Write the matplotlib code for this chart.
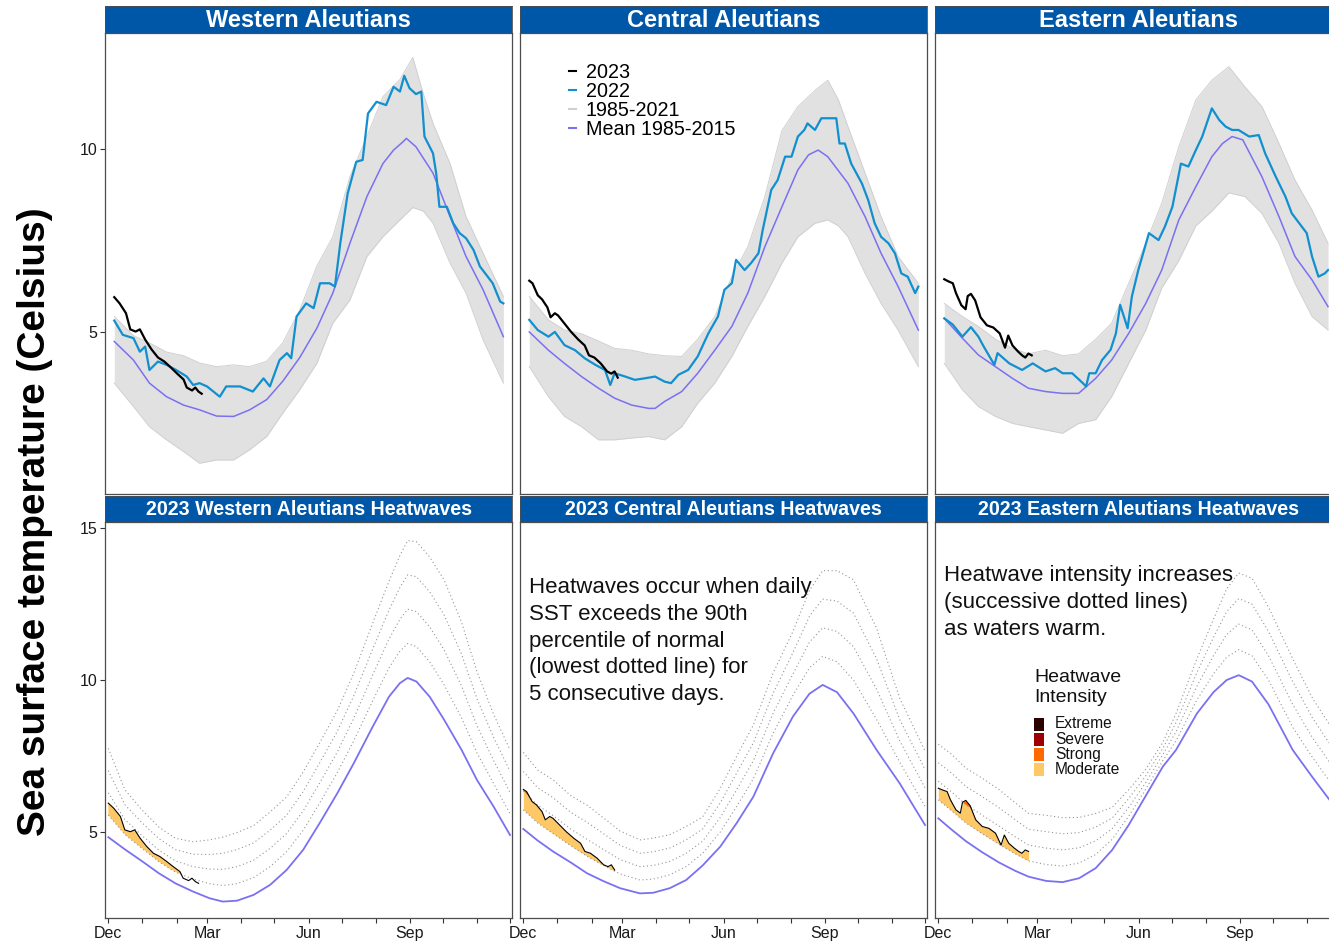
import numpy as np
import matplotlib
matplotlib.use("Agg")
import matplotlib.pyplot as plt
from matplotlib.lines import Line2D
from matplotlib.patches import Rectangle

plt.rcParams['font.family'] = ['Liberation Sans', 'DejaVu Sans']

# ---------------------------------------------------------------- data
# x values are days since 1 December
regions = ["Western Aleutians", "Central Aleutians", "Eastern Aleutians"]
month_ticks = [0, 31, 62, 90, 121, 151, 182, 212, 243, 274, 304, 335, 365]
month_labels = ["Dec", "", "", "Mar", "", "", "Jun", "", "", "Sep", "", "", ""]
intensity_names = ["Extreme", "Severe", "Strong", "Moderate"]

# --- Western Aleutians
west_2022_day = [0, 8, 18, 24, 29, 33, 41, 49, 58, 68, 74, 80, 87, 99, 105, 118, 130, 140, 146, 155,
                 162, 166, 171, 180, 187, 193, 202, 207, 212, 219, 227, 233, 238, 246, 255, 262, 268, 272, 277, 283,
                 288, 291, 299, 302, 305, 312, 318, 324, 330, 337, 343, 349, 355, 362, 365]
west_2022 = [5.31, 4.92, 4.83, 4.46, 4.6, 3.96, 4.19, 4.1, 3.96, 3.78, 3.55, 3.6, 3.51, 3.23, 3.51, 3.51, 3.37, 3.73, 3.51, 4.23,
             4.42, 4.28, 5.42, 5.78, 5.65, 6.33, 6.33, 6.24, 7.42, 8.79, 9.65, 9.7, 10.97, 11.29, 11.2, 11.7, 11.57, 12.0, 11.66, 11.5,
             11.57, 10.34, 9.88, 9.33, 8.42, 8.42, 7.97, 7.7, 7.56, 7.24, 6.79, 6.56, 6.33, 5.83, 5.78]
west_mean_day = [0, 18, 33, 49, 65, 80, 96, 112, 127, 143, 158, 174, 190, 205, 221, 237, 252, 262, 271, 274, 283, 299, 315, 330, 346, 365]
west_mean = [4.74, 4.23, 3.6, 3.23, 3.0, 2.87, 2.7, 2.69, 2.87, 3.15, 3.65, 4.3, 5.1, 6.06, 7.42, 8.7, 9.6, 9.97, 10.2, 10.29, 10.06, 9.34, 8.15, 7.06, 6.15, 4.87]
west_env_day = [0, 18, 33, 49, 65, 80, 96, 112, 127, 143, 158, 174, 190, 205, 221, 237, 252, 268, 280, 290, 299, 315, 330, 346, 365]
west_env_hi = [5.42, 4.9, 4.7, 4.45, 4.35, 4.15, 4.05, 4.1, 4.05, 4.2, 4.7, 5.6, 6.8, 7.6, 9.24, 10.34, 11.43, 11.9, 12.5, 11.5, 10.7, 9.6, 8.15, 7.15, 5.97]
west_env_lo = [3.6, 2.96, 2.41, 2.05, 1.73, 1.41, 1.5, 1.5, 1.78, 2.14, 2.78, 3.42, 4.14, 5.24, 5.87, 7.06, 7.6, 8.06, 8.4, 8.3, 7.97, 6.88, 6.06, 4.78, 3.6]
west_2023_day = [0, 5, 11, 15, 20, 24, 29, 35, 41, 47, 53, 59, 65, 68, 73, 76, 79, 82]
west_2023 = [5.95, 5.78, 5.51, 5.07, 5.01, 5.07, 4.79, 4.52, 4.30, 4.19, 4.03, 3.86, 3.70, 3.48, 3.40, 3.48, 3.37, 3.31]
west_clim_day = [0, 15, 31, 46, 61, 77, 92, 104, 117, 132, 147, 162, 177, 192, 208, 223, 240, 255, 265, 272, 280, 292, 305, 321, 335, 350, 365]
west_clim_mean = [4.83, 4.43, 4.03, 3.64, 3.31, 3.04, 2.82, 2.71, 2.74, 2.93, 3.26, 3.75, 4.41, 5.29, 6.27, 7.26, 8.45, 9.45, 9.9, 10.07, 9.95, 9.45, 8.7, 7.7, 6.71, 5.84, 4.9]
west_clim_p90 = [5.56, 4.92, 4.45, 4.02, 3.68, 3.45, 3.3, 3.24, 3.3, 3.5, 3.86, 4.35, 5.05, 5.95, 6.95, 8.0, 9.3, 10.4, 10.95, 11.2, 11.1, 10.6, 9.85, 8.75, 7.6, 6.6, 5.6]

# --- Central Aleutians
cent_2022_day = [0, 8, 18, 24, 33, 43, 52, 62, 71, 76, 80, 90, 99, 108, 118, 127, 133, 140, 149, 158,
                 168, 177, 183, 190, 194, 202, 208, 215, 219, 227, 233, 240, 246, 252, 258, 261, 268, 274, 280, 288,
                 291, 296, 302, 312, 318, 324, 330, 337, 343, 349, 355, 362, 365]
cent_2022 = [5.33, 5.05, 4.87, 5.0, 4.64, 4.5, 4.28, 4.1, 3.96, 3.55, 3.87, 3.78, 3.69, 3.73, 3.78, 3.64, 3.6, 3.83, 3.96, 4.33,
             4.96, 5.42, 6.15, 6.33, 6.97, 6.69, 6.88, 7.15, 7.79, 8.88, 9.15, 9.79, 9.79, 10.34, 10.52, 10.7, 10.52, 10.84, 10.84, 10.84,
             10.15, 10.15, 9.6, 9.06, 8.6, 7.97, 7.6, 7.42, 7.15, 6.6, 6.51, 6.06, 6.24]
cent_mean_day = [0, 18, 33, 49, 65, 80, 96, 112, 118, 127, 143, 158, 174, 190, 205, 221, 237, 252, 262, 271, 280, 299, 315, 330, 346, 365]
cent_mean = [5.0, 4.5, 4.14, 3.78, 3.46, 3.19, 3.0, 2.91, 2.91, 3.1, 3.37, 3.87, 4.5, 5.15, 6.06, 7.33, 8.42, 9.43, 9.84, 9.97, 9.79, 9.06, 8.15, 7.15, 6.24, 5.05]
cent_env_day = [0, 18, 33, 49, 65, 80, 96, 112, 127, 143, 158, 174, 190, 205, 221, 237, 252, 268, 280, 290, 299, 315, 330, 346, 365]
cent_env_hi = [5.97, 5.33, 5.05, 4.95, 4.75, 4.55, 4.5, 4.4, 4.35, 4.33, 4.8, 5.42, 6.51, 7.33, 8.7, 10.5, 11.16, 11.6, 11.88, 11.34, 10.61, 9.34, 8.15, 7.06, 6.33]
cent_env_lo = [4.05, 3.23, 2.69, 2.41, 2.05, 2.05, 2.1, 2.14, 2.05, 2.41, 3.05, 3.6, 4.33, 5.15, 5.97, 6.88, 7.6, 7.97, 8.06, 7.9, 7.6, 6.6, 5.78, 5.05, 4.05]
cent_2023_day = [0, 3, 8, 12, 17, 20, 24, 27, 33, 39, 46, 52, 56, 61, 67, 73, 77, 80, 83]
cent_2023 = [6.40, 6.33, 6.0, 5.89, 5.67, 5.40, 5.51, 5.45, 5.23, 5.01, 4.79, 4.63, 4.36, 4.30, 4.14, 3.92, 3.86, 3.92, 3.75]
cent_clim_day = [0, 13, 27, 43, 58, 73, 88, 106, 118, 133, 148, 163, 179, 194, 209, 227, 245, 260, 272, 285, 300, 321, 342, 365]
cent_clim_mean = [5.10, 4.72, 4.36, 4.0, 3.64, 3.38, 3.15, 2.98, 3.0, 3.15, 3.42, 3.9, 4.52, 5.3, 6.16, 7.59, 8.8, 9.55, 9.84, 9.6, 8.9, 7.7, 6.6, 5.23]
cent_clim_p90 = [5.73, 5.3, 4.95, 4.55, 4.2, 3.9, 3.62, 3.42, 3.45, 3.59, 3.86, 4.3, 5.0, 5.85, 6.75, 8.25, 9.5, 10.4, 10.78, 10.6, 10.0, 8.7, 7.3, 5.84]

# --- Eastern Aleutians
east_2022_day = [0, 8, 17, 25, 32, 37, 47, 50, 61, 73, 83, 95, 104, 111, 120, 130, 133, 136, 142, 148,
                 156, 161, 165, 172, 176, 182, 192, 201, 207, 214, 222, 229, 236, 242, 251, 258, 264, 270, 276, 286,
                 295, 301, 311, 320, 326, 333, 340, 345, 351, 357, 360]
east_2022 = [5.37, 5.2, 4.87, 5.13, 4.87, 4.6, 4.1, 4.42, 4.14, 3.96, 4.14, 3.92, 4.01, 3.87, 3.87, 3.6, 3.51, 3.87, 3.87, 4.23,
             4.51, 4.96, 5.74, 5.10, 5.97, 6.69, 7.7, 7.51, 7.88, 8.42, 9.6, 9.52, 9.97, 10.34, 11.11, 10.79, 10.61, 10.52, 10.52, 10.34,
             10.38, 9.88, 9.24, 8.7, 8.24, 7.97, 7.7, 7.06, 6.51, 6.6, 6.69]
east_mean_day = [0, 17, 32, 48, 64, 79, 95, 111, 126, 142, 157, 173, 189, 204, 220, 236, 251, 261, 270, 280, 298, 314, 329, 345, 360]
east_mean = [5.37, 4.83, 4.37, 4.05, 3.73, 3.46, 3.37, 3.32, 3.32, 3.73, 4.23, 4.96, 5.78, 6.69, 8.06, 8.97, 9.79, 10.15, 10.34, 10.25, 9.24, 8.15, 7.06, 6.42, 5.69]
east_env_day = [0, 17, 32, 48, 64, 79, 95, 111, 126, 142, 157, 173, 189, 204, 220, 236, 251, 267, 282, 298, 314, 329, 345, 360]
east_env_hi = [5.78, 5.42, 5.15, 4.8, 4.55, 4.4, 4.5, 4.35, 4.4, 4.8, 5.24, 6.33, 7.42, 8.52, 10.06, 11.34, 11.88, 12.25, 11.7, 11.16, 10.15, 9.15, 8.33, 7.42]
east_env_lo = [4.14, 3.42, 2.96, 2.69, 2.5, 2.41, 2.32, 2.23, 2.5, 2.6, 3.23, 4.14, 5.05, 6.2, 6.95, 7.9, 8.3, 8.8, 8.7, 8.24, 7.42, 6.33, 5.42, 5.05]
east_2023_day = [0, 4, 8, 11, 16, 20, 22, 25, 29, 34, 40, 46, 52, 57, 60, 64, 69, 73, 76, 79, 82]
east_2023 = [6.44, 6.38, 6.33, 6.06, 5.73, 5.62, 5.98, 6.04, 5.86, 5.40, 5.18, 5.12, 4.96, 4.57, 4.90, 4.63, 4.47, 4.36, 4.30, 4.41, 4.36]
east_clim_day = [0, 12, 25, 40, 55, 70, 82, 98, 113, 128, 143, 158, 173, 188, 204, 216, 235, 250, 262, 273, 285, 300, 322, 340, 365]
east_clim_mean = [5.45, 5.08, 4.70, 4.33, 4.0, 3.72, 3.53, 3.39, 3.35, 3.48, 3.81, 4.41, 5.23, 6.16, 7.15, 7.7, 8.9, 9.6, 10.0, 10.16, 9.95, 9.2, 7.7, 6.8, 5.6]
east_clim_p90 = [6.06, 5.70, 5.30, 4.94, 4.60, 4.28, 4.05, 3.93, 3.88, 3.98, 4.26, 4.76, 5.52, 6.38, 7.35, 8.0, 9.35, 10.2, 10.75, 11.0, 10.8, 10.0, 8.45, 7.45, 6.2]

top_series = [
    (west_env_day, west_env_lo, west_env_hi, west_mean_day, west_mean, west_2022_day, west_2022),
    (cent_env_day, cent_env_lo, cent_env_hi, cent_mean_day, cent_mean, cent_2022_day, cent_2022),
    (east_env_day, east_env_lo, east_env_hi, east_mean_day, east_mean, east_2022_day, east_2022),
]
obs_2023 = [(west_2023_day, west_2023), (cent_2023_day, cent_2023), (east_2023_day, east_2023)]
climatology = [
    (west_clim_day, west_clim_mean, west_clim_p90),
    (cent_clim_day, cent_clim_mean, cent_clim_p90),
    (east_clim_day, east_clim_mean, east_clim_p90),
]

# ---------------------------------------------------------------- style
STRIP = "#0057a8"
C2023 = "black"
C2022 = "#118fcf"
CGREY = "#d0d0d0"
CMEAN = "#7a70f2"
FLAME = {"Moderate": "#ffc866", "Strong": "#ff6900", "Severe": "#9e0000", "Extreme": "#2d0000"}
FRAME = "#4d4d4d"

W, H = 1329, 944
fig = plt.figure(figsize=(W / 100, H / 100), dpi=100)


def rect(x0, y0, x1, y1):
    return [x0 / W, 1 - y1 / H, (x1 - x0) / W, (y1 - y0) / H]


def strip(x0, y0, x1, y1, label, size):
    a = fig.add_axes(rect(x0, y0, x1, y1))
    a.set_facecolor(STRIP)
    a.set_xticks([]); a.set_yticks([])
    for s in a.spines.values():
        s.set_color(FRAME); s.set_linewidth(0.6)
    a.text(0.5, 0.47, label, color="white", fontsize=size, fontweight="bold",
           ha="center", va="center", transform=a.transAxes)
    return a


def frame(a):
    for s in a.spines.values():
        s.set_color(FRAME); s.set_linewidth(0.9)
    a.tick_params(direction="out", length=3.5, width=0.8, color="#333333",
                  labelsize=11.5, labelcolor="#1a1a1a", pad=2)


cols = [105, 520, 935]
PW = 407
BY0, BY1 = 522, 918

for i, x0 in enumerate(cols):
    # ---- top row: daily SST traces
    env_d, env_lo, env_hi, m_d, m_v, d22, v22 = top_series[i]
    d23, v23 = obs_2023[i]
    strip(x0, 6, x0 + PW, 33, regions[i], 17)
    ax = fig.add_axes(rect(x0, 33, x0 + PW, 494))
    ax.fill_between(env_d, env_lo, env_hi, color="#e1e1e1", lw=0)
    ax.plot(env_d, env_lo, color=CGREY, lw=0.7)
    ax.plot(env_d, env_hi, color=CGREY, lw=0.7)
    ax.plot(m_d, m_v, color=CMEAN, lw=1.1)
    ax.plot(d22, v22, color=C2022, lw=1.6)
    ax.plot(d23, v23, color=C2023, lw=1.6)
    ax.set_xlim(-8.7, 373.1)
    ax.set_ylim(0.57, 13.17)
    ax.set_xticks([])
    frame(ax)
    if i == 0:
        ax.set_yticks([5, 10])
    else:
        ax.set_yticks([])
    if i == 1:
        handles = [Line2D([], [], color=C2023, lw=1.5), Line2D([], [], color=C2022, lw=1.5),
                   Line2D([], [], color=CGREY, lw=1.5), Line2D([], [], color=CMEAN, lw=1.5)]
        ax.legend(handles, ["2023", "2022", "1985-2021", "Mean 1985-2015"],
                  loc="upper left", bbox_to_anchor=(0.12, 0.936), frameon=False,
                  fontsize=14.2, handlelength=0.35, handletextpad=0.5,
                  labelspacing=0.0, borderaxespad=0, borderpad=0)

    # ---- bottom row: 2023 marine heatwaves
    c_d, c_mean, c_p90 = climatology[i]
    c_d = np.asarray(c_d, float)
    c_mean = np.asarray(c_mean, float)
    c_p90 = np.asarray(c_p90, float)
    strip(x0, 496, x0 + PW, 522, "2023 " + regions[i] + " Heatwaves", 14.1)
    bx = fig.add_axes(rect(x0, BY0, x0 + PW, BY1))
    # category thresholds: 1x, 2x, 3x, 4x the (90th percentile - mean) gap
    for k in range(1, 5):
        bx.plot(c_d, c_mean + k * (c_p90 - c_mean), color="#959595", lw=0.8,
                linestyle=(0, (1, 2.4)))
    d = np.asarray(d23, float)
    sst = np.asarray(v23, float)
    m_at = np.interp(d, c_d, c_mean)
    p_at = np.interp(d, c_d, c_p90)
    for k, name in enumerate(["Moderate", "Strong", "Severe", "Extreme"], start=1):
        thr = m_at + k * (p_at - m_at)
        bx.fill_between(d, thr, sst, where=sst > thr, interpolate=True,
                        color=FLAME[name], lw=0)
    bx.plot(d, sst, color="black", lw=0.8)
    bx.plot(c_d, c_mean, color=CMEAN, lw=1.3)
    bx.set_xlim(-3.0, 366.8)
    bx.set_ylim(2.17, 15.2)
    bx.set_xticks(month_ticks)
    bx.set_xticklabels(month_labels)
    frame(bx)
    if i == 0:
        bx.set_yticks([5, 10, 15])
    else:
        bx.set_yticks([])

    def ay(py):
        return 1 - (py - BY0) / (BY1 - BY0)

    def axx(px):
        return (px - x0) / PW

    if i == 1:
        bx.text(axx(529), ay(577),
                "Heatwaves occur when daily\nSST exceeds the 90th\npercentile of normal\n"
                "(lowest dotted line) for\n5 consecutive days.",
                transform=bx.transAxes, fontsize=16, va="top", ha="left",
                linespacing=1.36, color="#111111")
    if i == 2:
        bx.text(axx(944), ay(565),
                "Heatwave intensity increases\n(successive dotted lines)\nas waters warm.",
                transform=bx.transAxes, fontsize=16, va="top", ha="left",
                linespacing=1.36, color="#111111")
        # intensity key
        bx.text(axx(1034), ay(677), "Heatwave", transform=bx.transAxes,
                fontsize=14, va="center", ha="left", color="#111111")
        bx.text(axx(1034), ay(698), "Intensity", transform=bx.transAxes,
                fontsize=14, va="center", ha="left", color="#111111")
        for j, name in enumerate(intensity_names):
            yc = 724 + 15 * j
            bx.add_patch(Rectangle((axx(1034), ay(yc + 6.5)), axx(1044) - axx(1034),
                                   ay(yc - 6.5) - ay(yc + 6.5), transform=bx.transAxes,
                                   facecolor=FLAME[name], edgecolor="none"))
            bx.text(axx(1055), ay(yc), name, transform=bx.transAxes,
                    fontsize=11.2, va="center", ha="left", color="#111111")

fig.text(35 / W, 1 - 522 / H, "Sea surface temperature (Celsius)", rotation=90,
         fontsize=28, fontweight="bold", ha="center", va="center")

fig.savefig("out.png", dpi=100)
